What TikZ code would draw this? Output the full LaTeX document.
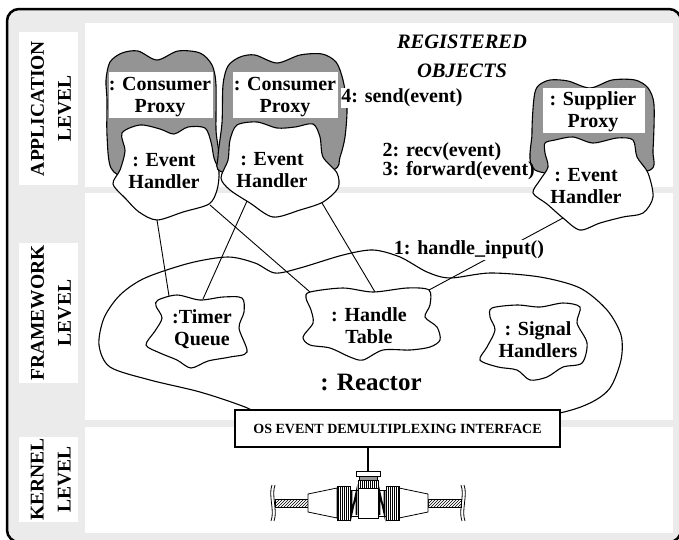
\documentclass[tikz,border=0pt]{standalone}
\usepackage{fontspec}
\setmainfont{Liberation Serif}
\usepackage{tikz}
\usetikzlibrary{patterns}
\definecolor{panelgray}{gray}{0.92}
\definecolor{proxygray}{gray}{0.58}

\begin{document}
\begin{tikzpicture}[x=1pt,y=-1pt,
  lvl/.style={rotate=90,align=center,inner sep=0pt,font=\fontsize{19.5}{27}\selectfont\bfseries},
  obj/.style={align=center,inner sep=0pt,font=\fontsize{20}{22}\selectfont\bfseries},
  msg/.style={inner sep=0.5pt,font=\fontsize{20}{18.5}\selectfont\bfseries},
  handler/.style={draw,line width=1.1pt,fill=white},
  proxy/.style={draw,line width=1.1pt,fill=proxygray},
  link/.style={line width=0.9pt}]
\useasboundingbox (0,0) rectangle (679,539);
\draw[line width=2.5pt,rounded corners=12pt,fill=panelgray] (7,9) rectangle (681,542);
\foreach \ya/\yb in {23/187,193/420,427/533}
  \fill[white] (85,\ya) rectangle (673,\yb);
\foreach \ya/\yb in {32/185,243/383,437/522}
  \fill[white] (19,\ya) rectangle (78,\yb);
\node[lvl] (applvl) at (51,108.5) {APPLICATION\\LEVEL};
\node[lvl] (fwlvl) at (51,313) {FRAMEWORK\\LEVEL};
\node[lvl] (krnlvl) at (51,479.5) {KERNEL\\LEVEL};
\node[align=center,font=\fontsize{20.5}{29}\selectfont\bfseries\itshape] (regobj) at (462,56) {REGISTERED\\OBJECTS};

% consumer proxies and supplier proxy
\path[proxy] plot[smooth cycle] coordinates {(107,100) (106,80) (110,62) (122,53) (138,51) (157,60) (178,51) (200,53) (212,65) (216,85) (216,130) (218,165) (190,178) (130,178) (111,168) (107,135)};
\fill[white] (109,72) rectangle (213,118);
\path[handler] plot[smooth cycle] coordinates {(122,133) (140,125) (160,129) (174,134) (188,127) (205,128) (211,142) (214,158) (219,172) (217,190) (209,204) (183,212) (157,220) (139,212) (126,199) (113,184) (120,170) (125,151)};
\path[proxy] plot[smooth cycle] coordinates {(223,85) (228,66) (240,57) (255,55) (277,63) (300,55) (322,54) (336,62) (343,80) (347,107) (345,137) (340,157) (333,170) (280,180) (222,172) (218,157) (222,123)};
\fill[white] (233,72) rectangle (338,118);
\path[handler] plot[smooth cycle] coordinates {(237,125) (257,122) (277,128) (295,127) (313,124) (320,137) (323,157) (337,173) (338,188) (323,202) (300,210) (273,217) (250,203) (230,190) (221,178) (228,160) (230,140)};
\path[proxy] plot[smooth cycle] coordinates {(534,98) (538,86) (550,80) (568,81) (590,88) (612,80) (635,80) (648,88) (654,105) (653,150) (650,170) (600,175) (535,170) (532,133)};
\fill[white] (543,88) rectangle (645,133);
\path[handler] plot[smooth cycle] coordinates {(545,143) (555,140) (573,137) (593,143) (617,138) (633,140) (637,157) (648,173) (653,197) (643,213) (623,217) (600,223) (580,230) (563,218) (547,204) (533,193) (540,180) (548,167) (545,153)};
\node[obj] (cpA) at (160,97) {: Consumer\\Proxy};
\node[obj] (ehA) at (164,171) {: Event\\Handler};
\node[obj] (cpB) at (285,97) {: Consumer\\Proxy};
\node[obj] (ehB) at (272,170) {: Event\\Handler};
\node[obj] (sp) at (593,112) {: Supplier\\Proxy};
\node[obj] (ehS) at (586,186) {: Event\\Handler};

% reactor parts
\path[handler] plot[smooth cycle] coordinates {(158,300) (177,295) (200,300) (223,297) (242,298) (244,312) (239,328) (247,352) (230,357) (208,361) (191,368) (177,360) (160,353) (146,345) (155,331) (162,318) (156,306)};
\path[handler] plot[smooth cycle] coordinates {(310,292) (343,288) (373,292) (407,288) (429,290) (430,305) (425,317) (437,327) (440,340) (430,347) (410,350) (383,350) (363,360) (350,357) (330,348) (310,345) (303,337) (313,323) (311,310) (306,298)};
\path[handler] plot[smooth cycle] coordinates {(492,308) (517,305) (540,307) (563,303) (580,307) (577,323) (587,343) (582,363) (563,367) (547,377) (530,380) (517,370) (498,367) (480,360) (487,347) (495,330) (490,317)};
\node[obj] (tq) at (202,329) {:Timer\\Queue};
\node[obj] (ht) at (369,326) {: Handle\\Table};
\node[obj] (sh) at (538,340) {: Signal\\Handlers};

\coordinate (ehA-s) at (157,220);
\coordinate (ehA-se) at (210,205);
\coordinate (ehB-sw) at (247,201);
\coordinate (ehB-se) at (322,203);
\coordinate (ehS-sw) at (563,218);
\coordinate (tq-nw) at (169,296);
\coordinate (tq-ne) at (203,299);
\coordinate (ht-nw) at (310,292);
\coordinate (ht-n) at (375,292);
\coordinate (ht-ne) at (429,290);
\draw[link] (ehA-s) -- (tq-nw);
\draw[link] (ehA-se) -- (ht-nw);
\draw[link] (ehB-sw) -- (tq-ne);
\draw[link] (ehB-se) -- (ht-n);
\draw[link] (ht-ne) -- (ehS-sw);

\node[msg,fill=white] (send) at (402,98) {4: send(event)};
\node[msg,align=left,anchor=west] (recv) at (382,161) {2: recv(event)\\3: forward(event)};
\node[msg,fill=white] (hin) at (469,250) {1: handle\_input()};

\draw[line width=1.1pt] plot[smooth cycle] coordinates {(99,345) (104,318) (120,295) (145,278) (190,263) (228,257) (255,263) (275,273) (300,268) (343,255) (373,250) (400,257) (427,272) (450,278) (490,273) (540,277) (580,288) (607,310) (621,335) (621,360) (610,388) (590,403) (555,414) (450,432) (300,430) (245,407) (200,392) (150,380) (110,367)};
\node[font=\fontsize{25}{25}\selectfont\bfseries] (reactor) at (371,382.5) {: Reactor};

\node[draw,line width=2pt,fill=white,minimum width=325pt,minimum height=37pt,font=\fontsize{14}{14}\selectfont\bfseries] (os) at (397.5,428.5) {OS EVENT DEMULTIPLEXING INTERFACE};

% network connector
\coordinate (bnctop) at (368,471);
\draw[line width=2pt] (os.south -| bnctop) -- (bnctop);
\begin{scope}[shift={(368,503)},line width=0.8pt]
\foreach \s in {-1,1}{
  \begin{scope}[xscale=\s]
  \draw[pattern=north east lines] (60,-4) rectangle (93,4);
  \draw (93,-18) .. controls (97,-8) and (90,8) .. (94,18);
  \draw (96,-18) .. controls (100,-8) and (93,8) .. (97,18);
  \draw[fill=white] (31,-15) -- (60,-9) -- (60,9) -- (31,15) -- cycle;
  \draw[fill=white] (18,-17) rectangle (31,17);
  \foreach \r in {20,22,...,30} \draw (\r,-17) -- (\r,17);
  \draw[fill=white] (10,-13) rectangle (18,13);
  \draw[line width=1.8pt] (11.5,12) -- (11.5,-11) -- (16.5,11) -- (16.5,-12);
  \end{scope}}
\draw[fill=white] (-10,-15) rectangle (10,15);
\draw[fill=white] (-10,-23) rectangle (10,-15);
\foreach \r in {-8,-6,...,8} \draw (\r,-23) -- (\r,-15);
\draw[fill=proxygray] (-9,-27) rectangle (9,-23);
\draw[fill=white] (-12,-32) rectangle (12,-27);
\end{scope}
\end{tikzpicture}
\end{document}
